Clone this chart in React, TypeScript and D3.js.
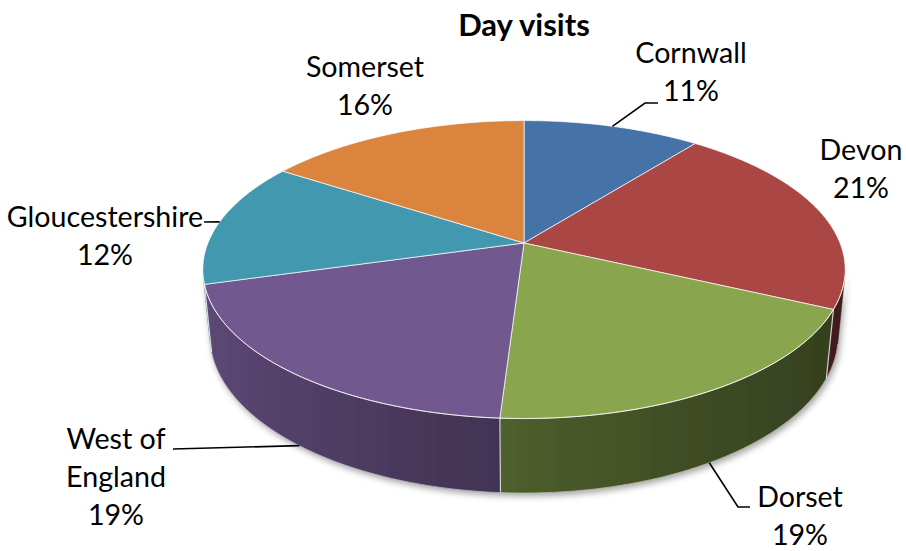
import React from "react";
import * as d3 from "d3";

// ---------- data ----------
const title = "Day visits";
const categories = ["Cornwall", "Devon", "Dorset", "West of England", "Gloucestershire", "Somerset"];
// slice shares
const values = [10.6, 21.4, 19.0, 19.6, 13.6, 15.8];
// data label percentages as printed on the chart
const percentLabels = ["11%", "21%", "19%", "19%", "12%", "16%"];
const colors = ["#4572A7", "#AA4643", "#89A54E", "#71588F", "#4198AF", "#DB843D"];

// ---------- layout ----------
const W = 906;
const H = 551;
const CX = 524;
const CY = 243;
const FOCAL = 1577;
const DIST = 4.99;
const SIN_T = 0.4564;
const COS_T = Math.sqrt(1 - SIN_T * SIN_T);
const DEPTH = 0.237;
const FONT = "Lato, 'Open Sans', 'DejaVu Sans', sans-serif";
const LABEL_SIZE = 28.6;
const LINE_H = 38;

const labelLayout = [
  { lines: ["Cornwall"], x: 691, y: 63, leader: { rim: "top", pts: [[645, 103], [658, 103]] } },
  { lines: ["Devon"], x: 861, y: 160, leader: null },
  { lines: ["Dorset"], x: 800, y: 507, leader: { rim: "bottom", pts: [[738, 507], [750, 507]] } },
  { lines: ["West of", "England"], x: 116, y: 449, leader: { rim: "bottom", pts: [[173, 449]] } },
  { lines: ["Gloucestershire"], x: 105, y: 227, leader: { rim: "top", pts: [[204, 222]] } },
  { lines: ["Somerset"], x: 365, y: 77, leader: null },
];

type P = [number, number];

function project(theta: number, r: number, h: number): P {
  const u = r * Math.sin(theta);
  const v = -r * Math.cos(theta);
  const z = DIST - v * COS_T - h * SIN_T;
  return [CX + (FOCAL * u) / z, CY + (FOCAL * (v * SIN_T - h * COS_T)) / z];
}

// side wall faces the camera when 1 + DIST*cos(tilt)*cos(theta) < 0
function wallVisible(theta: number) {
  return 1 + DIST * COS_T * Math.cos(theta) < 0;
}

function shadeFactor(theta: number) {
  const g = (1 - Math.sin(theta)) / 2;
  return 0.38 + 0.45 * Math.pow(Math.max(0, g), 1.3);
}

export default function App() {
  const arcs = d3.pie<number>().sort(null).value((d) => d)(values);
  const line = d3.line();
  const step = (0.5 * Math.PI) / 180;

  // visible wall range
  const sil = Math.acos(-1 / (DIST * COS_T)); // first visible angle
  const visLo = sil;
  const visHi = 2 * Math.PI - sil;

  const sides: { d: string; id: string; x1: number; x2: number; stops: { o: number; c: string }[] }[] = [];
  arcs.forEach((a, i) => {
    const lo = Math.max(a.startAngle, visLo);
    const hi = Math.min(a.endAngle, visHi);
    if (hi <= lo) return;
    const n = Math.max(2, Math.ceil((hi - lo) / step));
    const ts = d3.range(n + 1).map((k) => lo + ((hi - lo) * k) / n);
    const topPts = ts.map((t) => project(t, 1, 0));
    const botPts = ts.map((t) => project(t, 1, -DEPTH)).reverse();
    const d = (line([...topPts, ...botPts]) || "") + "Z";
    const midX = ts.map((t) => (project(t, 1, 0)[0] + project(t, 1, -DEPTH)[0]) / 2);
    const x1 = midX[0];
    const x2 = midX[midX.length - 1];
    const base = d3.rgb(colors[i]);
    let last = 0;
    const stops = ts.map((t, k) => {
      let o = Math.abs(x2 - x1) < 1e-6 ? 0 : (midX[k] - x1) / (x2 - x1);
      o = Math.min(1, Math.max(last, o));
      last = o;
      const f = shadeFactor(t);
      return { o, c: d3.rgb(base.r * f, base.g * f, base.b * f).formatHex() };
    });
    sides.push({ d, id: `side${i}`, x1, x2, stops });
  });

  const rimTs = d3.range(0, 201).map((k) => visLo + ((visHi - visLo) * k) / 200);
  const bottomRim = line(rimTs.map((t) => project(t, 1, -DEPTH))) || "";
  const topRimFront = line(rimTs.map((t) => project(t, 1, 0))) || "";

  const topPaths = arcs.map((a, i) => {
    const n = Math.max(2, Math.ceil((a.endAngle - a.startAngle) / step));
    const pts: P[] = [project(0, 0, 0)];
    for (let k = 0; k <= n; k++) {
      pts.push(project(a.startAngle + ((a.endAngle - a.startAngle) * k) / n, 1, 0));
    }
    return { d: (line(pts) || "") + "Z", fill: colors[i] };
  });

  const edges: P[][] = arcs
    .filter((a) => wallVisible(a.startAngle))
    .map((a) => [project(a.startAngle, 1, 0), project(a.startAngle, 1, -DEPTH)]);

  const labels = arcs.map((a, i) => {
    const L = labelLayout[i];
    const mid = (a.startAngle + a.endAngle) / 2;
    let leader: string | null = null;
    if (L.leader) {
      const start = project(mid, 1, L.leader.rim === "top" ? 0 : -DEPTH);
      leader = line([start, ...(L.leader.pts as P[])]) || null;
    }
    return { ...L, pct: percentLabels[i], leader, key: categories[i] };
  });

  return (
    <svg
      width={W}
      height={H}
      viewBox={`0 0 ${W} ${H}`}
      style={{ position: "fixed", left: 0, top: 0, background: "#fff" }}
    >
      <defs>
        <filter id="pieShadow" x="-10%" y="-10%" width="125%" height="140%">
          <feDropShadow dx="2" dy="3" stdDeviation="3" floodColor="#000" floodOpacity="0.35" />
        </filter>
        {sides.map((s) => (
          <linearGradient key={s.id} id={s.id} gradientUnits="userSpaceOnUse" x1={s.x1} y1={0} x2={s.x2} y2={0}>
            {s.stops.map((st, k) => (
              <stop key={k} offset={st.o} stopColor={st.c} />
            ))}
          </linearGradient>
        ))}
      </defs>
      <rect width={W} height={H} fill="#fff" />
      <g filter="url(#pieShadow)">
        {sides.map((s) => (
          <path key={s.id} d={s.d} fill={`url(#${s.id})`} stroke={`url(#${s.id})`} strokeWidth={0.5} />
        ))}
      </g>
      <path d={bottomRim} fill="none" stroke="rgba(255,255,255,0.45)" strokeWidth={1} />
      {edges.map((e, i) => (
        <path key={"e" + i} d={line(e) || ""} stroke="rgba(255,255,255,0.75)" strokeWidth={1.2} />
      ))}
      {topPaths.map((p, i) => (
        <path key={"t" + i} d={p.d} fill={p.fill} stroke="rgba(255,255,255,0.7)" strokeWidth={1} strokeLinejoin="round" />
      ))}
      <path d={topRimFront} fill="none" stroke="rgba(255,255,255,0.6)" strokeWidth={1} />
      {labels.map((l) => (
        <g key={l.key}>
          {l.leader && <path d={l.leader} fill="none" stroke="#000" strokeWidth={1.6} />}
          <text x={l.x} y={l.y} textAnchor="middle" fontFamily={FONT} fontSize={LABEL_SIZE} fill="#000">
            {[...l.lines, l.pct].map((s, j) => (
              <tspan key={j} x={l.x} y={l.y + j * LINE_H}>
                {s}
              </tspan>
            ))}
          </text>
        </g>
      ))}
      <text x={524} y={36} textAnchor="middle" fontFamily={FONT} fontWeight="bold" fontSize={31} fill="#000">
        {title}
      </text>
    </svg>
  );
}
